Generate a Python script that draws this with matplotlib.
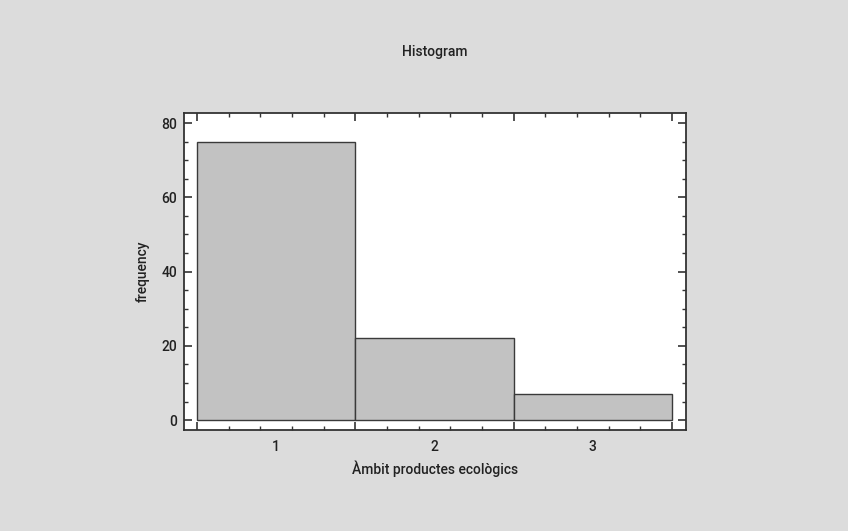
import numpy as np
import matplotlib.pyplot as plt
from matplotlib.ticker import FixedLocator

plt.rcParams['font.family'] = ['Roboto', 'DejaVu Sans']

categories = [1, 2, 3]
counts = [75, 22, 7]
tick_labels = ['1', '2', '3']

fig = plt.figure(figsize=(8.48, 5.31), dpi=100)
fig.patch.set_facecolor('#dcdcdc')
ax = fig.add_axes([0.217, 0.190, 0.592, 0.597])
ax.set_facecolor('white')

ax.bar(categories, counts, width=1.0, color='#c2c2c2', edgecolor='#3a3a3a', linewidth=1.0)

ax.set_xlim(0.418, 3.589)
ax.set_ylim(-2.7, 82.7)

# bin edges as major ticks, finer ticks in between
edges = [c - 0.5 for c in categories] + [categories[-1] + 0.5]
ax.xaxis.set_major_locator(FixedLocator(edges))
ax.xaxis.set_minor_locator(FixedLocator([e + 0.2 * k for e in edges[:-1] for k in range(1, 5)]))
ax.set_xticklabels([])
ax.set_yticks([0, 20, 40, 60, 80])
ax.yaxis.set_minor_locator(FixedLocator(np.arange(0, 81, 5)))

ax.tick_params(which='major', direction='in', length=6, width=1.2, color='#333333',
               top=True, right=True, labelsize=10, pad=5)
ax.tick_params(which='minor', direction='in', length=3, width=1.0, color='#333333',
               top=True, right=True)
ax.tick_params(axis='y', labelcolor='#222222')
for lab in ax.get_yticklabels():
    lab.set_fontweight('medium')

# category labels centred under each bar
sec = ax.secondary_xaxis('bottom')
sec.set_xticks(categories)
sec.set_xticklabels(tick_labels, fontweight='medium')
sec.tick_params(length=0, labelsize=10, pad=7, labelcolor='#222222')
sec.spines['bottom'].set_visible(False)
sec.set_xlabel('Àmbit productes ecològics', fontsize=10, fontweight='medium',
               color='#222222', labelpad=5)

for s in ax.spines.values():
    s.set_linewidth(1.3)
    s.set_color('#333333')

ax.set_ylabel('frequency', fontsize=10, fontweight='medium', color='#222222', labelpad=8)
fig.text(0.513, 0.902, 'Histogram', ha='center', va='center', fontsize=10,
         fontweight='medium', color='#222222')

fig.savefig('out.png', dpi=100, facecolor=fig.get_facecolor())
